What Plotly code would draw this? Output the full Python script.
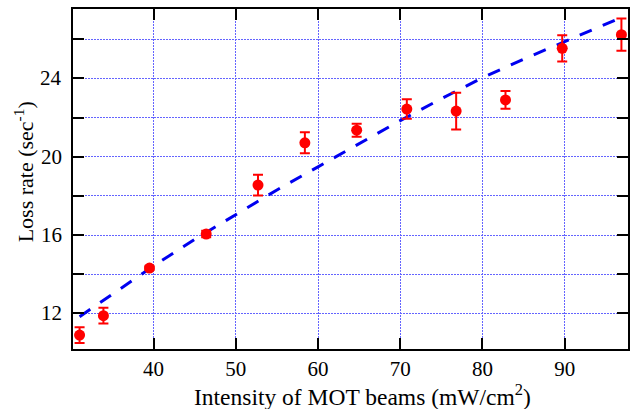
import plotly.graph_objects as go

# Measured data
intensity = [31.0, 33.9, 39.5, 46.4, 52.7, 58.4, 64.7, 70.8, 76.8, 82.8, 89.7, 96.9]
loss_rate = [10.89, 11.88, 14.31, 16.05, 18.55, 20.71, 21.35, 22.43, 22.33, 22.90, 25.53, 26.23]
loss_err = [0.40, 0.40, 0.10, 0.17, 0.53, 0.54, 0.33, 0.50, 0.94, 0.45, 0.67, 0.82]

# Fit curve
fit_x = [31, 35, 40, 45, 50, 55, 60, 65, 70, 75, 80, 85, 90, 96.3]
fit_y = [11.83, 12.97, 14.42, 15.78, 17.05, 18.30, 19.48, 20.67, 21.84, 22.96, 24.03, 24.98, 25.86, 27.0]

x_ticks = [40, 50, 60, 70, 80, 90]
y_ticks = [12, 16, 20, 24]
y_minor_ticks = [14, 18, 22, 26]

x_title = "Intensity of MOT beams (mW/cm<sup>2</sup>)"
y_title = "Loss rate (sec<sup>-1</sup>)"

font_family = "'Liberation Serif', 'DejaVu Serif', serif"
grid_color = "rgb(100,100,255)"
grid_dash = "2px,1px"

fig = go.Figure()
fig.add_trace(go.Scatter(
    x=fit_x, y=fit_y, mode="lines",
    line=dict(color="rgb(0,0,240)", width=3, dash="13px,12px"),
    hoverinfo="skip", showlegend=False,
))
fig.add_trace(go.Scatter(
    x=intensity, y=loss_rate, mode="markers",
    marker=dict(color="rgb(255,0,0)", size=11),
    error_y=dict(type="data", array=loss_err, color="rgb(255,0,0)", thickness=2, width=5),
    showlegend=False,
))

axis_common = dict(
    showline=True, linecolor="black", linewidth=2, mirror="ticks",
    ticks="inside", ticklen=11, tickwidth=2, tickcolor="black",
    showgrid=True, gridcolor=grid_color, gridwidth=1, griddash=grid_dash,
    zeroline=False,
    tickfont=dict(family=font_family, size=21, color="black"),
)

fig.update_xaxes(range=[30.2, 97.7], tickvals=x_ticks, **axis_common)
fig.update_yaxes(
    range=[10.18, 27.54], tickvals=y_ticks, showticklabels=False,
    minor=dict(tickvals=y_minor_ticks, ticks="inside", ticklen=11, tickwidth=2,
               tickcolor="black", showgrid=True, gridcolor=grid_color,
               gridwidth=1, griddash=grid_dash),
    **axis_common,
)

# y tick labels placed via the y axis scale
for v in y_ticks:
    fig.add_annotation(
        text=str(v), xref="paper", yref="y", x=-0.017, y=v,
        xanchor="right", yanchor="middle", showarrow=False,
        font=dict(family=font_family, size=21, color="black"),
    )

fig.add_annotation(
    text=x_title, xref="paper", yref="paper", x=0.522, y=-0.135,
    xanchor="center", yanchor="middle", showarrow=False,
    font=dict(family=font_family, size=23.5, color="black"),
)
fig.add_annotation(
    text=y_title, xref="paper", yref="paper", x=-0.088, y=0.52,
    xanchor="center", yanchor="middle", textangle=-90, showarrow=False,
    font=dict(family=font_family, size=22, color="black"),
)

fig.update_layout(
    width=637, height=409,
    margin=dict(l=73, r=7, t=9, b=60),
    plot_bgcolor="white", paper_bgcolor="white",
    font=dict(family=font_family, size=20, color="black"),
)

fig.write_html("out.html")
